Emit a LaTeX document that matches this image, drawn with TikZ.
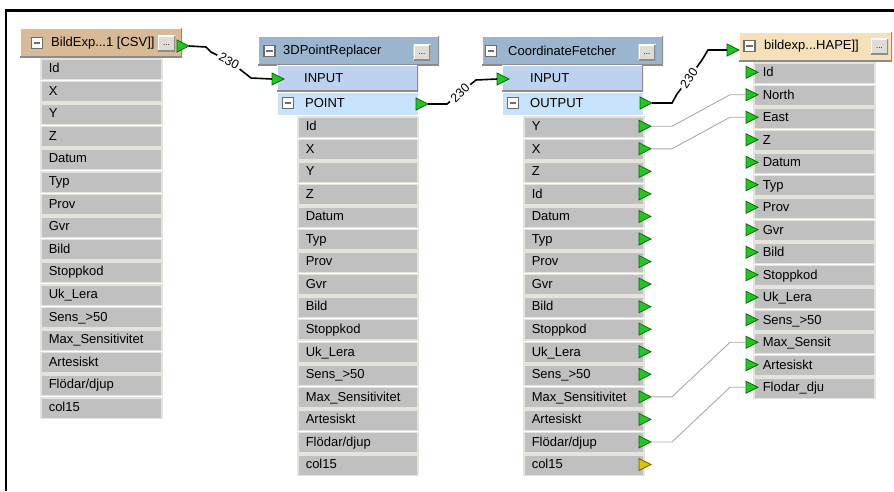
\documentclass[tikz,border=0pt]{standalone}
\usepackage{fontspec}
\setmainfont{Liberation Sans}
\definecolor{tanhdr}{RGB}{216,186,150}
\definecolor{wheathdr}{RGB}{246,224,186}
\definecolor{bluehdr}{RGB}{155,181,206}
\definecolor{inputblue}{RGB}{188,210,238}
\definecolor{pointblue}{RGB}{199,226,251}
\definecolor{rowgray}{RGB}{192,192,192}
\definecolor{rowline}{RGB}{228,228,220}
\definecolor{btnface}{RGB}{222,220,214}
\definecolor{btnedge}{RGB}{150,150,150}
\definecolor{minusedge}{RGB}{110,110,110}
\definecolor{portgreen}{RGB}{30,200,30}
\definecolor{portyellow}{RGB}{225,195,0}
\definecolor{linkgray}{RGB}{170,170,170}
\newcommand\fs{\fontsize{13}{15}\selectfont}
\newcommand\gtri[4][portgreen]{%
  \filldraw[fill=#1, draw=#1!50!black, line width=0.7pt] (#3,#4-6) -- (#3+12,#4) -- (#3,#4+6) -- cycle;
  \coordinate (#2in) at (#3,#4);
  \coordinate (#2out) at (#3+12,#4);}
\tikzset{
  bevel/.style={path picture={
    \draw[white, line width=2.5pt] (path picture bounding box.south west) -- (path picture bounding box.north west) -- (path picture bounding box.north east);
    \draw[black!45, line width=2.5pt] (path picture bounding box.north east) -- (path picture bounding box.south east) -- (path picture bounding box.south west);}},
  hdr/.style={anchor=north west, inner sep=0pt, bevel},
  attr/.style={anchor=north west, fill=rowgray, draw=rowline, line width=1.5pt, minimum height=20.5pt, inner ysep=0pt, align=left, font=\fs, text height=9.5pt, text depth=2.5pt},
  minusbox/.style={draw=minusedge, fill=white, line width=1.2pt, minimum size=11pt, inner sep=0pt,
    path picture={\draw[line width=2.2pt] ([xshift=-3.2pt]path picture bounding box.center) -- ([xshift=3.2pt]path picture bounding box.center);}},
  btn/.style={fill=btnface, minimum width=17pt, minimum height=16pt, inner sep=0pt, bevel, font=\fontsize{8}{8}\selectfont},
  conn/.style={line width=1.6pt, black},
  thinlink/.style={line width=0.9pt, linkgray},
  lab/.style={font=\fontsize{12.5}{12.5}\selectfont, inner sep=2.5pt},
  txt/.style={anchor=west, font=\fs, inner sep=0pt},
}
\begin{document}
\begin{tikzpicture}[x=1pt,y=-1pt]
\useasboundingbox (0,0) rectangle (894,491);
\fill[white] (0,0) rectangle (894,491);
% frame
\draw[line width=2.5pt] (6.2,491) -- (6.2,10.7) -- (894,10.7);

% ---------------- Box 1
\node[hdr, fill=tanhdr, minimum width=162pt, minimum height=29pt] (h1) at (20,28) {};
\node[minusbox] (h1m) at (37,43) {};
\node[txt] (h1t) at (51,43) {BildExp...1 [CSV]]};
\node[btn] (h1b) at (166.5,43.5) {\raisebox{-4pt}{...}};
\foreach \t [count=\i from 0] in {Id,X,Y,Z,Datum,Typ,Prov,Gvr,Bild,Stoppkod,Uk\_Lera,Sens\_>50,Max\_Sensitivitet,Artesiskt,Flödar/djup,col15}
  \node[attr, text width=105pt, inner xsep=8pt] (a\i) at (40,58+22.6*\i) {\t};
\gtri{p1}{177}{46}

% ---------------- Box 2
\node[hdr, fill=bluehdr, minimum width=181pt, minimum height=29pt] (h2) at (258,36) {};
\node[minusbox] (h2m) at (269.5,51) {};
\node[txt] (h2t) at (283,51) {3DPointReplacer};
\node[btn] (h2b) at (422,52.5) {\raisebox{-4pt}{...}};
\node[hdr, fill=inputblue, minimum width=141pt, minimum height=26pt] (b2i) at (277,65) {};
\node[txt] (b2it) at (304,78) {INPUT};
\node[anchor=north west, inner sep=0pt, fill=pointblue, draw=white, line width=1pt, minimum width=141pt, minimum height=23pt] (b2p) at (277,92) {};
\node[minusbox] (b2pm) at (288,103) {};
\node[txt] (b2pt) at (305,103) {POINT};
\foreach \t [count=\i from 0] in {Id,X,Y,Z,Datum,Typ,Prov,Gvr,Bild,Stoppkod,Uk\_Lera,Sens\_>50,Max\_Sensitivitet,Artesiskt,Flödar/djup,col15}
  \node[attr, text width=104pt, inner xsep=8pt] (r\i) at (297,116+22.55*\i) {\t};
\gtri{b2}{272}{79}
\gtri{p2}{416}{104}

% ---------------- Box 3
\node[hdr, fill=bluehdr, minimum width=181pt, minimum height=29pt] (h3) at (482,36) {};
\node[minusbox] (h3m) at (491,51) {};
\node[txt] (h3t) at (508,51) {CoordinateFetcher};
\node[btn] (h3b) at (647,52.5) {\raisebox{-4pt}{...}};
\node[hdr, fill=inputblue, minimum width=141pt, minimum height=26pt] (b3i) at (502,65) {};
\node[txt] (b3it) at (530,78) {INPUT};
\node[anchor=north west, inner sep=0pt, fill=pointblue, draw=white, line width=1pt, minimum width=141pt, minimum height=23pt] (b3o) at (502,92) {};
\node[minusbox] (b3om) at (513,103) {};
\node[txt] (b3ot) at (530,103) {OUTPUT};
\foreach \t [count=\i from 0] in {Y,X,Z,Id,Datum,Typ,Prov,Gvr,Bild,Stoppkod,Uk\_Lera,Sens\_>50,Max\_Sensitivitet,Artesiskt,Flödar/djup,col15}
  \node[attr, text width=104pt, inner xsep=8pt] (s\i) at (523,116+22.55*\i) {\t};
\foreach \i in {0,...,14} { \gtri{c\i}{639}{126.25+22.55*\i} }
\gtri[portyellow]{c15}{639}{126.25+22.55*15}
\gtri{b3}{497}{79}
\gtri{p3}{640}{103}

% ---------------- Box 4
\node[hdr, fill=wheathdr, minimum width=153pt, minimum height=29pt] (h4) at (739,32) {};
\node[minusbox] (h4m) at (749.5,46) {};
\node[txt] (h4t) at (764,46) {bildexp...HAPE]]};
\node[btn] (h4b) at (879.5,46.5) {\raisebox{-4pt}{...}};
\foreach \t [count=\i from 0] in {Id,North,East,Z,Datum,Typ,Prov,Gvr,Bild,Stoppkod,Uk\_Lera,Sens\_>50,Max\_Sensit,Artesiskt,Flodar\_dju}
  \node[attr, text width=103pt, inner xsep=9pt] (t\i) at (753,62+22.5*\i) {\t};
\foreach \i in {0,...,14} { \gtri{d\i}{746}{72.25+22.5*\i} }
\gtri{b4}{727}{50}

% ---------------- connectors
\node[lab, rotate=-28] (l1) at (229,61) {230};
\node[lab, rotate=45] (l2) at (460,93) {230};
\node[lab, rotate=56] (l3) at (689,78) {230};
\draw[conn] (p1out) -- ++(17,1) -- ++(5,5) -- (l1) -- ([shift={(-26,-5)}]b2in) -- ([shift={(-21,-1)}]b2in) -- (b2in);
\draw[conn] (p2out) -- ++(19,0) -- (l2) -- ([shift={(-21,1)}]b3in) -- (b3in);
\draw[conn] (p3out) -- ++(20,0) -- ++(5,-9) -- (l3) -- ([shift={(-25,10)}]b4in) -- ([shift={(-19,0)}]b4in) -- (b4in);

\draw[thinlink] (c0out) -- ++(21,0) -- ([xshift=-16pt]d1in) -- (d1in);
\draw[thinlink] (c1out) -- ++(21,0) -- ([xshift=-16pt]d2in) -- (d2in);
\draw[thinlink] (c12out) -- ++(21,0) -- ([xshift=-16pt]d12in) -- (d12in);
\draw[thinlink] (c14out) -- ++(21,0) -- ([xshift=-16pt]d14in) -- (d14in);
\end{tikzpicture}
\end{document}
